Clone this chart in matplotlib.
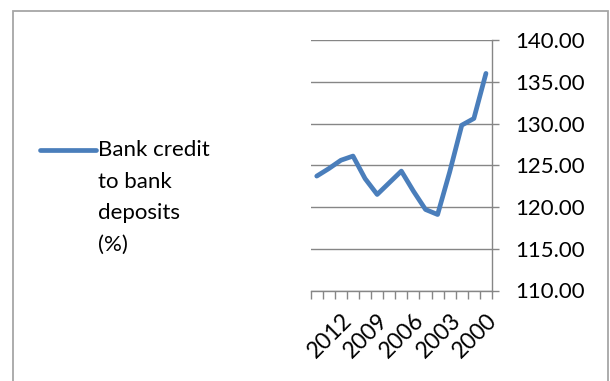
import matplotlib
matplotlib.use("Agg")
import matplotlib.pyplot as plt
from matplotlib.patches import Rectangle
from matplotlib.lines import Line2D

plt.rcParams['font.family'] = ['Lato', 'DejaVu Sans']

years = [2014, 2013, 2012, 2011, 2010, 2009, 2008, 2007, 2006, 2005, 2004, 2003, 2002, 2001, 2000]
values = [123.7, 124.6, 125.6, 126.1, 123.4, 121.5, 122.9, 124.3, 121.9, 119.7, 119.1, 124.2, 129.8, 130.6, 136.0]
shown_labels = ['2012', '2009', '2006', '2003', '2000']
yticks = [110, 115, 120, 125, 130, 135, 140]
series_name = "Bank credit\nto bank\ndeposits\n(%)"

W, H = 610, 381
fig = plt.figure(figsize=(W / 100, H / 100), dpi=100)

# outer chart border
fig.patches.append(Rectangle((13 / W, -0.1), (608 - 13) / W, 1 - 10.7 / H + 0.1,
                             transform=fig.transFigure, fill=False,
                             edgecolor='#A6A6A6', linewidth=1.3))

ax = fig.add_axes([310.7 / W, 1 - 290.5 / H, (492 - 310.7) / W, (290.5 - 40) / H])
xs = list(range(len(years)))
ax.plot(xs, values, color='#4A7EBB', linewidth=3.4, solid_capstyle='round',
        solid_joinstyle='round', zorder=3)

ax.set_xlim(-0.5, len(years) - 0.5)
ax.set_ylim(110, 140)

ax.yaxis.tick_right()
ax.set_yticks(yticks)
ax.set_yticklabels([f"{v:.2f}" for v in yticks], fontsize=16, color='#000000')
ax.tick_params(axis='y', direction='out', length=5, width=1, color='#868686', pad=12)

# minor ticks between categories, labels at selected categories
ax.set_xticks([i - 0.5 for i in range(len(years) + 1)], minor=True)
ax.tick_params(axis='x', which='minor', direction='out', length=6, width=1, color='#868686')
label_pos = [years.index(int(s)) for s in shown_labels]
ax.set_xticks(label_pos)
ax.set_xticklabels(shown_labels, fontsize=16.5, rotation=45, ha='right', rotation_mode='anchor')
ax.tick_params(axis='x', which='major', length=0, pad=14)

ax.grid(axis='y', color='#868686', linewidth=1)
ax.set_axisbelow(True)
for s in ['left', 'top']:
    ax.spines[s].set_visible(False)
for s in ['right', 'bottom']:
    ax.spines[s].set_color('#868686')
    ax.spines[s].set_linewidth(1)

# legend
fig.lines.append(Line2D([40 / W, 96 / W], [1 - 150 / H, 1 - 150 / H], transform=fig.transFigure,
                        color='#4A7EBB', linewidth=3.4, solid_capstyle='round'))
fig.text(98 / W, 1 - 140 / H, series_name, fontsize=16, va='top', ha='left',
         linespacing=1.72, color='#000000')

fig.savefig("out.png", dpi=100)
